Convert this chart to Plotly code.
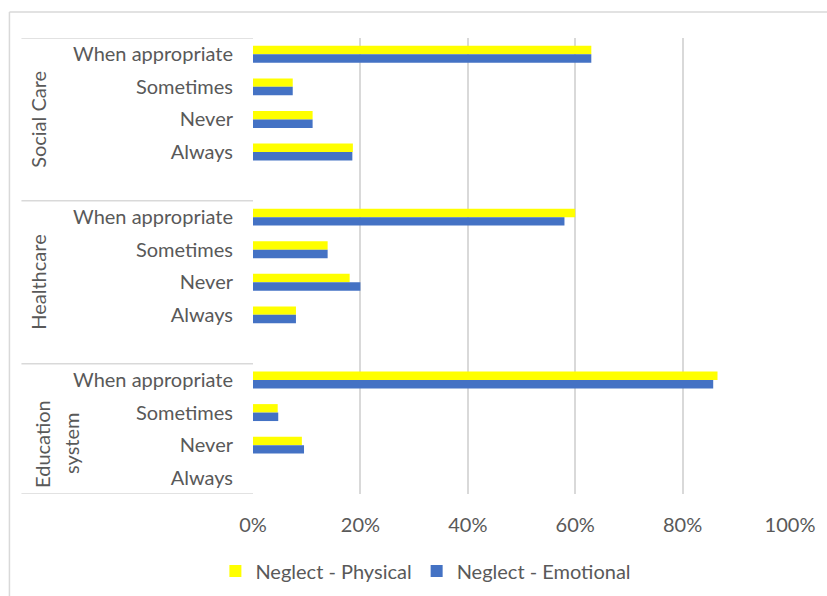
import plotly.graph_objects as go

# Data: share of respondents by sector and frequency
groups = ["Social Care", "Healthcare", "Education system"]
responses = ["When appropriate", "Sometimes", "Never", "Always"]
physical = [
    [0.630, 0.074, 0.111, 0.186],   # Social Care
    [0.600, 0.139, 0.180, 0.080],   # Healthcare
    [0.865, 0.046, 0.091, 0.000],   # Education system
]
emotional = [
    [0.630, 0.074, 0.111, 0.185],
    [0.580, 0.139, 0.200, 0.080],
    [0.857, 0.047, 0.095, 0.000],
]
x_ticks = [0, 0.2, 0.4, 0.6, 0.8, 1.0]

W, H = 827, 596
L, R, T, B = 253.3, 789.7, 38, 494          # plot area in pixels
FONT = "Lato"
FS = 20
TXT = "#595959"
GRID = "#D9D9D9"
SLOTS_PER_GROUP = 5                          # four responses + one spacer row
n_slots = SLOTS_PER_GROUP * (len(groups) - 1) + len(responses)


def px_x(p):
    return (p - L) / (R - L)


def px_y(p):
    return (B - p) / (B - T)


ypos, ylab, px_vals, em_vals = [], [], [], []
for g in range(len(groups)):
    for i, r in enumerate(responses):
        ypos.append(g * SLOTS_PER_GROUP + i + 0.5)
        ylab.append(r)
        px_vals.append(physical[g][i])
        em_vals.append(emotional[g][i])

fig = go.Figure()
fig.add_trace(go.Bar(y=ypos, x=px_vals, orientation="h", name="Neglect - Physical",
                     marker=dict(color="#FFFF00", line=dict(width=0))))
fig.add_trace(go.Bar(y=ypos, x=em_vals, orientation="h", name="Neglect - Emotional",
                     marker=dict(color="#4472C4", line=dict(width=0))))

shapes = []
# group separators on the category axis
for b in [0, SLOTS_PER_GROUP, 2 * SLOTS_PER_GROUP, n_slots]:
    shapes.append(dict(type="line", xref="paper", yref="y", x0=px_x(22), x1=0,
                       y0=b, y1=b, line=dict(color=GRID, width=1.5)))
# chart frame
shapes.append(dict(type="line", xref="paper", yref="paper", x0=px_x(10), x1=px_x(10),
                   y0=px_y(12), y1=px_y(H + 5), line=dict(color=GRID, width=1.5)))
shapes.append(dict(type="line", xref="paper", yref="paper", x0=px_x(10), x1=px_x(W + 5),
                   y0=px_y(12), y1=px_y(12), line=dict(color=GRID, width=1.5)))

annotations = []
for g, name in enumerate(groups[:2]):
    annotations.append(dict(text=name, xref="paper", yref="y", x=px_x(25),
                            y=g * SLOTS_PER_GROUP + SLOTS_PER_GROUP / 2, textangle=-90,
                            showarrow=False, font=dict(family=FONT, size=FS, color=TXT)))
edu_y = (443.5 - T) / (B - T) * n_slots
for word, xp in zip(groups[2].split(" "), [28, 57]):
    annotations.append(dict(text=word, xref="paper", yref="y", x=px_x(xp), y=edu_y,
                            textangle=-90, showarrow=False,
                            font=dict(family=FONT, size=FS, color=TXT)))

fig.update_layout(
    width=W, height=H,
    margin=dict(l=L, r=W - R, t=T, b=H - B, pad=0, autoexpand=False),
    paper_bgcolor="white", plot_bgcolor="white",
    barmode="group", bargap=0.48, bargroupgap=0,
    font=dict(family=FONT, size=FS, color=TXT),
    xaxis=dict(range=[0, 1], tickvals=x_ticks, tickformat=".0%", showgrid=True,
               gridcolor=GRID, gridwidth=1.5, zeroline=False, showline=False,
               ticks="", ticklabelstandoff=17, fixedrange=True),
    yaxis=dict(range=[n_slots, 0], tickvals=ypos, ticktext=ylab, showgrid=False,
               zeroline=False, showline=False, ticks="", ticklabelstandoff=19),
    legend=dict(orientation="h", x=px_x(426), xanchor="center", y=px_y(571),
                yanchor="middle", font=dict(family=FONT, size=FS, color=TXT),
                itemclick=False),
    shapes=shapes, annotations=annotations, showlegend=True,
)

fig.write_html("out.html")
